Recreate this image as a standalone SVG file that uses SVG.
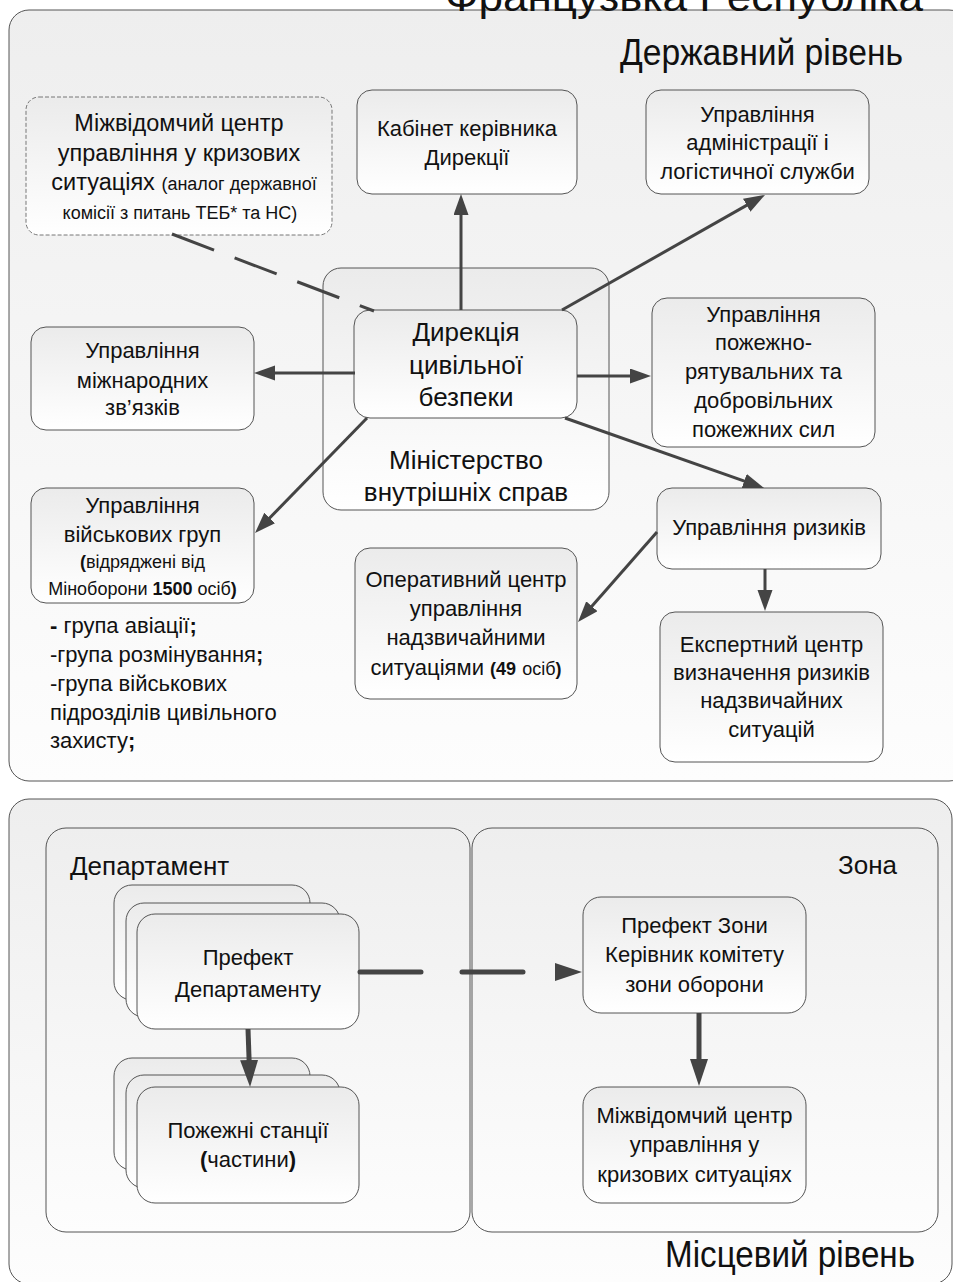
<svg xmlns="http://www.w3.org/2000/svg" width="953" height="1282" viewBox="0 0 953 1282">
<defs>
<linearGradient id="panelGrad" x1="0" y1="0" x2="0" y2="1">
<stop offset="0" stop-color="#eeeeee"/>
<stop offset="1" stop-color="#fdfdfd"/>
</linearGradient>
<linearGradient id="nodeGrad" x1="0" y1="0" x2="0" y2="1">
<stop offset="0" stop-color="#ebebeb"/>
<stop offset="1" stop-color="#ffffff"/>
</linearGradient>
<marker id="arr" markerUnits="userSpaceOnUse" markerWidth="22" markerHeight="16" refX="13" refY="7.5" orient="auto">
<path d="M0,0 L21,7.5 L0,15 z" fill="#444"/>
</marker>
<marker id="arrBig" markerUnits="userSpaceOnUse" markerWidth="28" markerHeight="20" refX="17" refY="9" orient="auto">
<path d="M0,0 L27,9 L0,18 z" fill="#444"/>
</marker>
</defs>
<style>
.panel{fill:url(#panelGrad);stroke:#555;stroke-width:1}
.node{fill:url(#nodeGrad);stroke:#555;stroke-width:1}
.dnode{fill:url(#nodeGrad);stroke:#777;stroke-width:1;stroke-dasharray:4 2}
text{font-family:"Liberation Sans",Arial,sans-serif;fill:#111}
.t{font-size:22px;text-anchor:middle}
.tl{font-size:23.5px}
.s{font-size:18px}
.b{font-weight:bold}
.big{font-size:26px;text-anchor:middle}
.h{font-size:37px}
.sub{font-size:26px}
.lst{font-size:22px}
.c{fill:none;stroke:#444;stroke-width:3}
.cb{fill:none;stroke:#444;stroke-width:5}
</style>

<g id="panel-state">
<rect class="panel" x="9" y="10" width="960" height="771" rx="20"/>
<text class="h" x="445" y="11" textLength="478" lengthAdjust="spacingAndGlyphs" style="font-size:40px">Французька Республіка</text>
<text class="h" x="620" y="65" textLength="283" lengthAdjust="spacingAndGlyphs">Державний рівень</text>
</g>

<g id="panel-local">
<rect class="panel" x="9" y="799" width="943" height="485" rx="20"/>
<text class="h" x="665" y="1267" textLength="250" lengthAdjust="spacingAndGlyphs">Місцевий рівень</text>
</g>

<g id="department">
<rect class="panel" x="46" y="828" width="424" height="404" rx="20"/>
<text class="sub" x="70" y="875">Департамент</text>
</g>

<g id="zone">
<rect class="panel" x="472" y="828" width="466" height="404" rx="20"/>
<text class="sub" x="838" y="874">Зона</text>
</g>

<g id="ministry">
<rect class="node" x="323" y="268" width="286" height="242" rx="18"/>
<text class="big" x="466" y="469">Міністерство</text>
<text class="big" x="466" y="501">внутрішніх справ</text>
</g>

<g id="crisis-center-state">
<rect class="dnode" x="26" y="97" width="306" height="138" rx="13"/>
<text class="t tl" x="179" y="131">Міжвідомчий центр</text>
<text class="t tl" x="179" y="161">управління у кризових</text>
<text class="t" x="184" y="190"><tspan class="tl">ситуаціях </tspan><tspan class="s">(аналог державної</tspan></text>
<text class="t s" x="180" y="219">комісії з питань ТЕБ* та НС)</text>
</g>

<g id="cabinet">
<rect class="node" x="357" y="90" width="220" height="104" rx="15"/>
<text class="t" x="467" y="136">Кабінет керівника</text>
<text class="t" x="467" y="165">Дирекції</text>
</g>

<g id="admin">
<rect class="node" x="646" y="90" width="223" height="104" rx="15"/>
<text class="t" x="757.5" y="122">Управління</text>
<text class="t" x="757.5" y="150">адміністрації і</text>
<text class="t" x="757.5" y="179">логістичної служби</text>
</g>

<g id="directorate">
<rect class="node" x="354" y="310" width="223" height="108" rx="16"/>
<text class="big" x="466" y="341">Дирекція</text>
<text class="big" x="466" y="374">цивільної</text>
<text class="big" x="466" y="406">безпеки</text>
</g>

<g id="intl">
<rect class="node" x="31" y="327" width="223" height="103" rx="15"/>
<text class="t" x="142.5" y="358">Управління</text>
<text class="t" x="142.5" y="388">міжнародних</text>
<text class="t" x="142.5" y="415">зв’язків</text>
</g>

<g id="military">
<rect class="node" x="31" y="488" width="223" height="115" rx="15"/>
<text class="t" x="142.5" y="513">Управління</text>
<text class="t" x="142.5" y="542">військових груп</text>
<text class="t s" x="142.5" y="568"><tspan class="b">(</tspan>відряджені від</text>
<text class="t s" x="142.5" y="595">Міноборони <tspan class="b">1500</tspan> осіб<tspan class="b">)</tspan></text>
</g>

<g id="military-list">
<text class="lst" x="50" y="633"><tspan class="b">-</tspan> група авіації<tspan class="b">;</tspan></text>
<text class="lst" x="50" y="662">-група розмінування<tspan class="b">;</tspan></text>
<text class="lst" x="50" y="691">-група військових</text>
<text class="lst" x="50" y="720">підрозділів цивільного</text>
<text class="lst" x="50" y="748">захисту<tspan class="b">;</tspan></text>
</g>

<g id="fire-rescue">
<rect class="node" x="652" y="298" width="223" height="149" rx="15"/>
<text class="t" x="763.5" y="322">Управління</text>
<text class="t" x="763.5" y="350">пожежно-</text>
<text class="t" x="763.5" y="379">рятувальних та</text>
<text class="t" x="763.5" y="408">добровільних</text>
<text class="t" x="763.5" y="437">пожежних сил</text>
</g>

<g id="risks">
<rect class="node" x="657" y="488" width="224" height="81" rx="15"/>
<text class="t" x="769" y="535">Управління ризиків</text>
</g>

<g id="ops-center">
<rect class="node" x="355" y="548" width="222" height="151" rx="15"/>
<text class="t" x="466" y="587">Оперативний центр</text>
<text class="t" x="466" y="616">управління</text>
<text class="t" x="466" y="645">надзвичайними</text>
<text class="t" x="466" y="675">ситуаціями <tspan class="b s">(49</tspan> <tspan class="s">осіб</tspan><tspan class="b s">)</tspan></text>
</g>

<g id="expert-center">
<rect class="node" x="660" y="612" width="223" height="150" rx="15"/>
<text class="t" x="771.5" y="652">Експертний центр</text>
<text class="t" x="771.5" y="680">визначення ризиків</text>
<text class="t" x="771.5" y="708">надзвичайних</text>
<text class="t" x="771.5" y="737">ситуацій</text>
</g>

<g id="prefect-department">
<rect class="node" x="114" y="885" width="196" height="115" rx="18"/>
<rect class="node" x="126" y="903" width="214" height="114" rx="18"/>
<rect class="node" x="137" y="914" width="222" height="115" rx="18"/>
<text class="t" x="248" y="965">Префект</text>
<text class="t" x="248" y="997">Департаменту</text>
</g>

<g id="fire-stations">
<rect class="node" x="114" y="1058" width="196" height="112" rx="18"/>
<rect class="node" x="126" y="1075" width="214" height="113" rx="18"/>
<rect class="node" x="137" y="1087" width="222" height="116" rx="18"/>
<text class="t" x="248" y="1138">Пожежні станції</text>
<text class="t" x="248" y="1167"><tspan class="b">(</tspan>частини<tspan class="b">)</tspan></text>
</g>

<g id="prefect-zone">
<rect class="node" x="583" y="897" width="223" height="116" rx="18"/>
<text class="t" x="694.5" y="933">Префект Зони</text>
<text class="t" x="694.5" y="962">Керівник комітету</text>
<text class="t" x="694.5" y="992">зони оборони</text>
</g>

<g id="crisis-center-zone">
<rect class="node" x="583" y="1087" width="223" height="116" rx="18"/>
<text class="t" x="694.5" y="1123">Міжвідомчий центр</text>
<text class="t" x="694.5" y="1152">управління у</text>
<text class="t" x="694.5" y="1182">кризових ситуаціях</text>
</g>

<g id="connectors">
<line class="c" x1="172" y1="234" x2="374" y2="311" stroke-dasharray="45 22"/>
<line class="c" x1="461" y1="310" x2="461" y2="202" marker-end="url(#arr)"/>
<line class="c" x1="562" y1="310" x2="758" y2="198.9" marker-end="url(#arr)"/>
<line class="c" x1="577" y1="376" x2="643" y2="376" marker-end="url(#arr)"/>
<line class="c" x1="565" y1="418" x2="756.5" y2="485.3" marker-end="url(#arr)"/>
<line class="c" x1="355" y1="373" x2="262" y2="373" marker-end="url(#arr)"/>
<line class="c" x1="367" y1="418" x2="260.6" y2="527.3" marker-end="url(#arr)"/>
<line class="c" x1="657" y1="532" x2="583.3" y2="616" marker-end="url(#arr)"/>
<line class="c" x1="765" y1="569" x2="765" y2="603" marker-end="url(#arr)"/>
<line class="cb" x1="248" y1="1029" x2="249.7" y2="1077" marker-end="url(#arrBig)"/>
<line class="cb" x1="360" y1="972" x2="572" y2="972" stroke-dasharray="61 41" stroke-linecap="round" marker-end="url(#arrBig)"/>
<line class="cb" x1="699" y1="1013" x2="699" y2="1076" marker-end="url(#arrBig)"/>
</g>
</svg>
